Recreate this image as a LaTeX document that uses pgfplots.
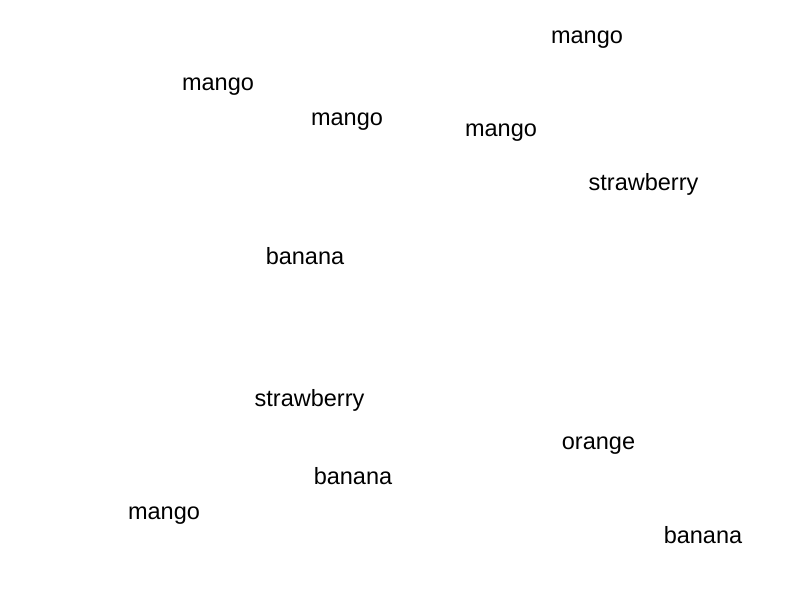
\documentclass[border=0pt]{standalone}
\usepackage{fontspec}
\setmainfont{Liberation Sans}
\usepackage{pgfplots}
\pgfplotsset{compat=1.18}

% label positions in picture pixels (x from left, y from top)
\pgfplotstableread{
x      y    label
587    40   mango
218    87   mango
347    122  mango
501    133  mango
643.5  184  strawberry
305    256  banana
309.5  400  strawberry
598.5  446  orange
353    476  banana
164    516  mango
703    535  banana
}\wordtable

\begin{document}
\begin{tikzpicture}
\begin{axis}[
    scale only axis,
    width=800bp, height=600bp,
    xmin=0, xmax=800,
    ymin=0, ymax=600,
    y dir=reverse,
    hide axis,
    clip=false,
]
\path (rel axis cs:0,0) rectangle (rel axis cs:1,1);
\addplot[draw=none, mark=none,
    nodes near coords,
    point meta=explicit symbolic,
    nodes near coords align={center},
    every node near coord/.style={anchor=center, inner sep=0pt,
        font=\fontsize{23.6}{28}\selectfont, text=black},
] table[x=x, y=y, meta=label] {\wordtable};
\end{axis}
\end{tikzpicture}
\end{document}
